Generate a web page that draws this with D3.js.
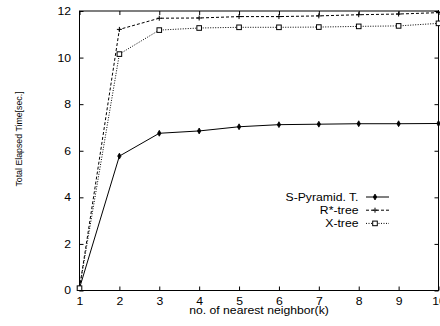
<!DOCTYPE html>
<html>
<head>
<meta charset="utf-8">
<script src="https://cdn.jsdelivr.net/npm/d3@7"></script>
<style>
  body { margin: 0; background: #fff; }
  svg { display: block; font-family: "Liberation Sans", Arial, Helvetica, sans-serif; }
  .axis text { font-size: 10.8px; fill: #000; }
  .axis line { stroke: #000; }
</style>
</head>
<body>
<script>
// waarden
var kValues = [1, 2, 3, 4, 5, 6, 7, 8, 9, 10];
var sPyramid = [0.1, 5.77, 6.75, 6.85, 7.03, 7.12, 7.14, 7.16, 7.16, 7.17];
var rStarTree = [0.1, 11.21, 11.69, 11.70, 11.76, 11.76, 11.79, 11.84, 11.87, 11.93];
var xTree = [0.1, 10.15, 11.18, 11.27, 11.30, 11.30, 11.31, 11.34, 11.36, 11.47];
var seriesNames = ["S-Pyramid. T.", "R*-tree", "X-tree"];
var yTicks = [0, 2, 4, 6, 8, 10, 12];

var width = 440,
    height = 326;

// plotgebied (let op: "top" is gereserveerd in de browser)
var plotLeft = 79.5, plotRight = 438.5, plotTop = 11, plotBottom = 290.5;
// de originele figuur is horizontaal iets uitgerekt, ook de tekst
var stretch = 1.13;

var svg = d3.select("body").append("svg")
    .attr("width", width)
    .attr("height", height);

var x = d3.scaleLinear().domain([1, 10]).range([plotLeft, plotRight]);
var y = d3.scaleLinear().domain([0, 12]).range([plotBottom, plotTop]);

// assen met ticks naar binnen
var xAxis = d3.axisBottom(x).tickValues(kValues).tickSizeInner(-4).tickSizeOuter(0).tickPadding(7);
var yAxis = d3.axisLeft(y).tickValues(yTicks).tickSizeInner(-4).tickSizeOuter(0).tickPadding(7.5);

svg.append("g")
    .attr("class", "axis")
    .attr("transform", "translate(0," + plotBottom + ")")
    .call(xAxis);
svg.append("g")
    .attr("class", "axis")
    .attr("transform", "translate(" + plotLeft + ",0)")
    .call(yAxis);
// gespiegelde ticks boven en rechts
svg.append("g")
    .attr("class", "axis")
    .attr("transform", "translate(0," + plotTop + ")")
    .call(d3.axisTop(x).tickValues(kValues).tickSizeInner(-4).tickSizeOuter(0).tickFormat(""));
svg.append("g")
    .attr("class", "axis")
    .attr("transform", "translate(" + plotRight + ",0)")
    .call(d3.axisRight(y).tickValues(yTicks).tickSizeInner(-4).tickSizeOuter(0).tickFormat(""));

svg.selectAll(".axis .domain").remove();
svg.selectAll(".axis").attr("font-family", null).attr("font-size", null);
svg.selectAll(".axis text").attr("transform", "scale(" + stretch + ",1)");

svg.append("rect")
    .attr("x", plotLeft)
    .attr("y", plotTop)
    .attr("width", plotRight - plotLeft)
    .attr("height", plotBottom - plotTop)
    .attr("fill", "none")
    .attr("stroke", "#000")
    .attr("stroke-width", 1);

var series = [
    { name: seriesNames[0], values: sPyramid, dash: null, marker: "diamond" },
    { name: seriesNames[1], values: rStarTree, dash: "3,2", marker: "plus" },
    { name: seriesNames[2], values: xTree, dash: "1,1.5", marker: "square" }
];

var line = d3.line()
    .x(function(d, i) { return x(kValues[i]); })
    .y(function(d) { return y(d); });

function drawMarker(g, type, cx, cy) {
    if (type === "diamond") {
        g.append("path")
            .attr("d", d3.symbol().type(d3.symbolDiamond).size(10)())
            .attr("transform", "translate(" + cx + "," + cy + ")")
            .attr("fill", "#000")
            .attr("stroke", "#000")
            .attr("stroke-width", 0.8);
    } else if (type === "plus") {
        g.append("path")
            .attr("d", "M-2.5,0H2.5M0,-2.5V2.5")
            .attr("transform", "translate(" + cx + "," + cy + ")")
            .attr("fill", "none")
            .attr("stroke", "#000")
            .attr("stroke-width", 1);
    } else {
        g.append("rect")
            .attr("x", cx - 2.3)
            .attr("y", cy - 2.3)
            .attr("width", 4.6)
            .attr("height", 4.6)
            .attr("fill", "#fff")
            .attr("stroke", "#000")
            .attr("stroke-width", 1);
    }
}

series.forEach(function(s) {
    var g = svg.append("g");
    g.append("path")
        .datum(s.values)
        .attr("d", line)
        .attr("fill", "none")
        .attr("stroke", "#000")
        .attr("stroke-width", 1)
        .attr("stroke-dasharray", s.dash);
    s.values.forEach(function(v, i) {
        drawMarker(g, s.marker, x(kValues[i]), y(v));
    });
});

// legenda
var legend = svg.append("g");
series.forEach(function(s, i) {
    var ly = 197 + i * 13.2;
    legend.append("text")
        .attr("transform", "translate(358.5," + ly + ") scale(" + stretch + ",1)")
        .attr("dy", "0.35em")
        .attr("text-anchor", "end")
        .attr("font-size", "10.8px")
        .text(s.name);
    legend.append("line")
        .attr("x1", 366)
        .attr("x2", 389)
        .attr("y1", ly)
        .attr("y2", ly)
        .attr("stroke", "#000")
        .attr("stroke-width", 1)
        .attr("stroke-dasharray", s.dash);
    drawMarker(legend, s.marker, 375, ly);
});

// astitels
svg.append("text")
    .attr("transform", "translate(19,139) scale(" + stretch + ",1) rotate(-90)")
    .attr("dy", "0.35em")
    .attr("text-anchor", "middle")
    .attr("font-size", "8.8px")
    .text("Total Elapsed Time[sec.]");

svg.append("text")
    .attr("transform", "translate(259,313.5) scale(" + stretch + ",1)")
    .attr("text-anchor", "middle")
    .attr("font-size", "10.8px")
    .text("no. of nearest neighbor(k)");
</script>
</body>
</html>
